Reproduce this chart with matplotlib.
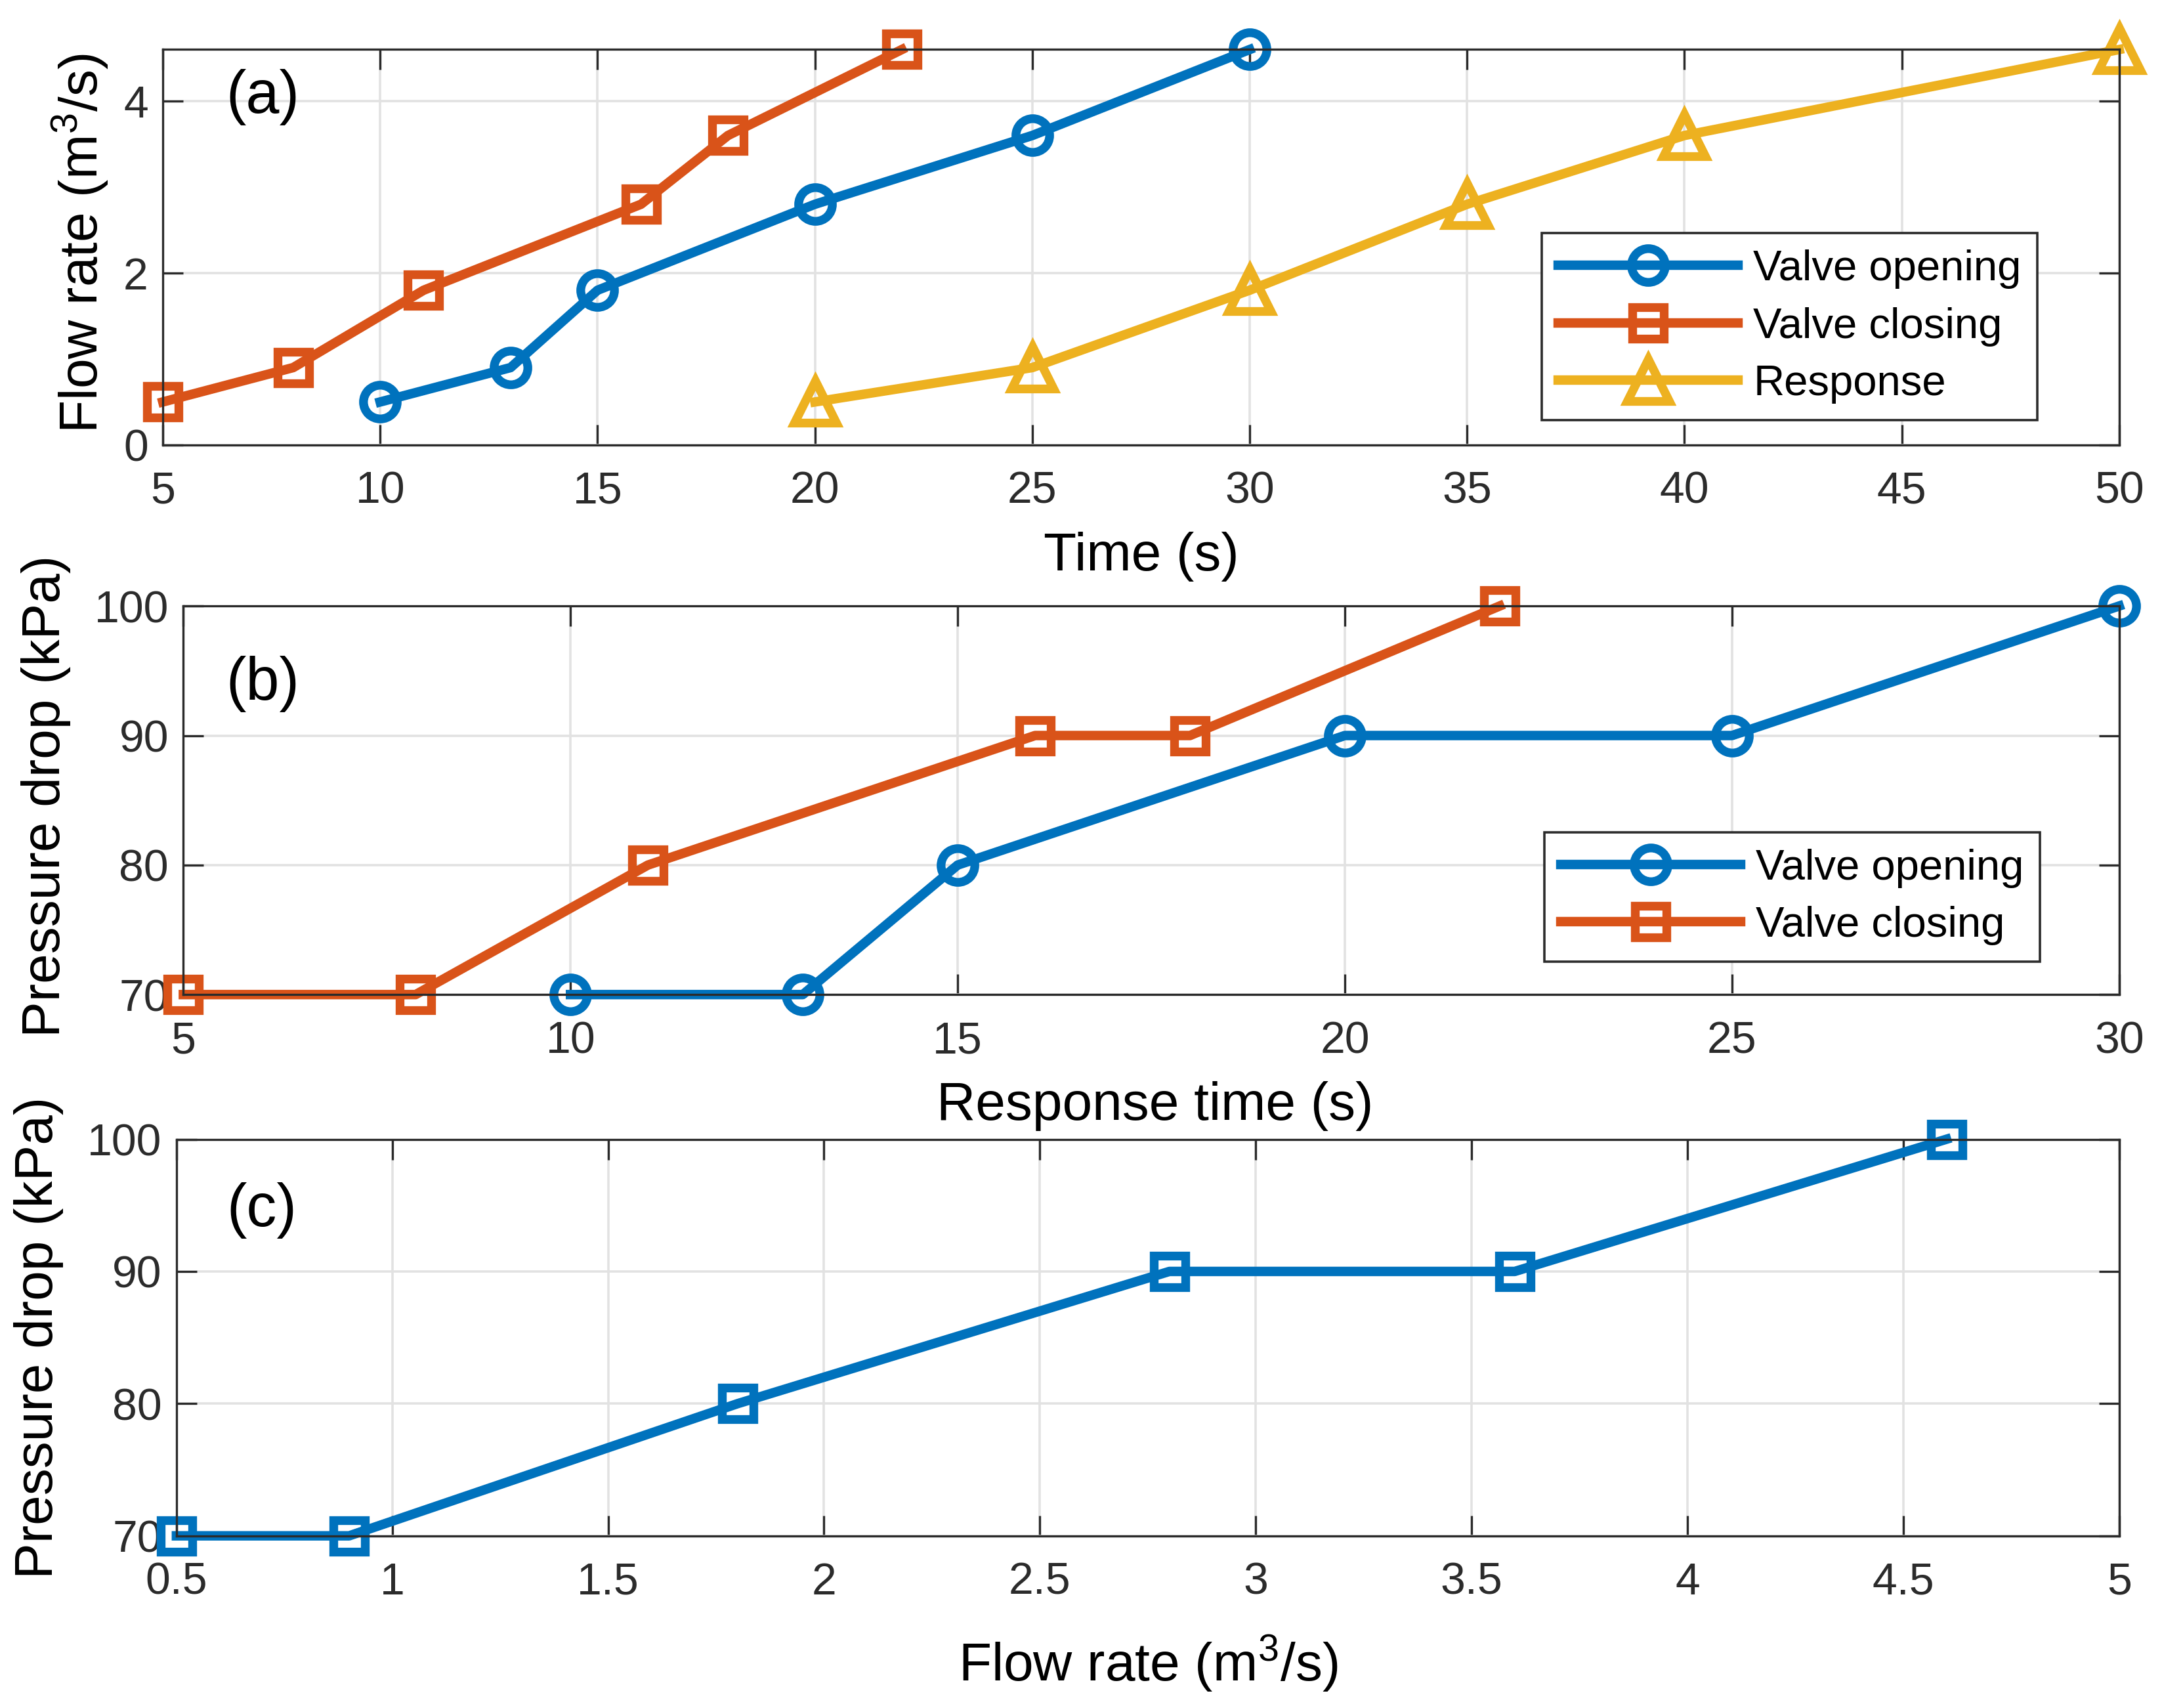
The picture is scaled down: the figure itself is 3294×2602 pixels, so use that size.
import matplotlib
matplotlib.use("Agg")
import matplotlib.pyplot as plt

plt.rcParams['font.family'] = ['Liberation Sans', 'DejaVu Sans']
plt.rcParams['mathtext.fontset'] = 'custom'
plt.rcParams['mathtext.rm'] = 'Liberation Sans'
plt.rcParams['mathtext.it'] = 'Liberation Sans:italic'

# ---------------- data ----------------
t_open = [10, 13, 15, 20, 25, 30]
t_close = [5, 8, 11, 16, 18, 22]
t_resp = [20, 25, 30, 35, 40, 50]
flow = [0.5, 0.9, 1.8, 2.8, 3.6, 4.6]
dp = [70, 70, 80, 90, 90, 100]

xt_a = [5, 10, 15, 20, 25, 30, 35, 40, 45, 50]
yt_a = [0, 2, 4]
xt_b = [5, 10, 15, 20, 25, 30]
yt_b = [70, 80, 90, 100]
xt_c = [0.5, 1, 1.5, 2, 2.5, 3, 3.5, 4, 4.5, 5]
xtl_c = ['0.5', '1', '1.5', '2', '2.5', '3', '3.5', '4', '4.5', '5']
yt_c = [70, 80, 90, 100]

C1 = '#0072BD'
C2 = '#D95319'
C3 = '#EDB120'
AX = '#2b2b2b'

TICK_FS = 24.5
LAB_FS = 29.5
LEG_FS = 23.5
PAN_FS = 33
LW = 5.2
MEW = 4.8
MS_O = 18.5
MS_S = 17.5
MS_T = 23

fig = plt.figure(figsize=(16.47, 13.01), dpi=200)

def style(ax):
    for s in ax.spines.values():
        s.set_color(AX)
        s.set_linewidth(1.2)
    ax.tick_params(direction='in', length=11, width=1.2, colors=AX,
                   labelsize=TICK_FS, top=True, right=True)
    ax.tick_params(axis='x', pad=14)
    ax.tick_params(axis='y', pad=8)
    ax.grid(True, color='#e2e2e2', linewidth=1.3)
    ax.set_axisbelow(True)

def leg(ax, anchor):
    lg = ax.legend(loc='lower left', bbox_to_anchor=anchor, fontsize=LEG_FS,
                   handlelength=4.2, handletextpad=0.35, borderpad=0.38, labelspacing=0.42,
                   fancybox=False, framealpha=1, edgecolor=AX, borderaxespad=0)
    lg.get_frame().set_linewidth(1.3)
    return lg

# ---------------- (a) ----------------
ax1 = fig.add_axes([0.0753, 0.7395, 0.9049, 0.2315])
ax1.plot(t_open, flow, '-o', color=C1, lw=LW, ms=MS_O, mew=MEW, mfc='none', label='Valve opening', clip_on=False)
ax1.plot(t_close, flow, '-s', color=C2, lw=LW, ms=MS_S, mew=MEW, mfc='none', label='Valve closing', clip_on=False)
ax1.plot(t_resp, flow, '-^', color=C3, lw=LW, ms=MS_T, mew=MEW, mfc='none', label='Response', clip_on=False)
ax1.set_xlim(5, 50)
ax1.set_ylim(0, 4.6)
ax1.set_xticks(xt_a)
ax1.set_yticks(yt_a)
style(ax1)
ax1.set_xlabel('Time (s)', fontsize=LAB_FS, va='center')
ax1.set_ylabel('Flow rate (m$^3$/s)', fontsize=LAB_FS, va='center')
ax1.xaxis.set_label_coords(0.5, -0.282)
ax1.yaxis.set_label_coords(-0.042, 0.51)
ax1.text(0.051, 0.88, '(a)', transform=ax1.transAxes, fontsize=PAN_FS, ha='center', va='center')
leg(ax1, (0.705, 0.063))

# ---------------- (b) ----------------
ax2 = fig.add_axes([0.0848, 0.4177, 0.8954, 0.2275])
ax2.plot(t_open, dp, '-o', color=C1, lw=LW, ms=MS_O, mew=MEW, mfc='none', label='Valve opening', clip_on=False)
ax2.plot(t_close, dp, '-s', color=C2, lw=LW, ms=MS_S, mew=MEW, mfc='none', label='Valve closing', clip_on=False)
ax2.set_xlim(5, 30)
ax2.set_ylim(70, 100)
ax2.set_xticks(xt_b)
ax2.set_yticks(yt_b)
style(ax2)
ax2.set_xlabel('Response time (s)', fontsize=LAB_FS, va='center')
ax2.set_ylabel('Pressure drop (kPa)', fontsize=LAB_FS, va='center')
ax2.xaxis.set_label_coords(0.502, -0.287)
ax2.yaxis.set_label_coords(-0.071, 0.51)
ax2.text(0.041, 0.80, '(b)', transform=ax2.transAxes, fontsize=PAN_FS, ha='center', va='center')
leg(ax2, (0.703, 0.085))

# ---------------- (c) ----------------
ax3 = fig.add_axes([0.0816, 0.1008, 0.8986, 0.2322])
ax3.plot(flow, dp, '-s', color=C1, lw=LW, ms=MS_S, mew=MEW, mfc='none', clip_on=False)
ax3.set_xlim(0.5, 5)
ax3.set_ylim(70, 100)
ax3.set_xticks(xt_c)
ax3.set_xticklabels(xtl_c)
ax3.set_yticks(yt_c)
style(ax3)
ax3.set_xlabel('Flow rate (m$^3$/s)', fontsize=LAB_FS, va='center')
ax3.set_ylabel('Pressure drop (kPa)', fontsize=LAB_FS, va='center')
ax3.xaxis.set_label_coords(0.5, -0.323)
ax3.yaxis.set_label_coords(-0.071, 0.50)
ax3.text(0.044, 0.82, '(c)', transform=ax3.transAxes, fontsize=PAN_FS, ha='center', va='center')

fig.savefig('out.png', dpi=200)
